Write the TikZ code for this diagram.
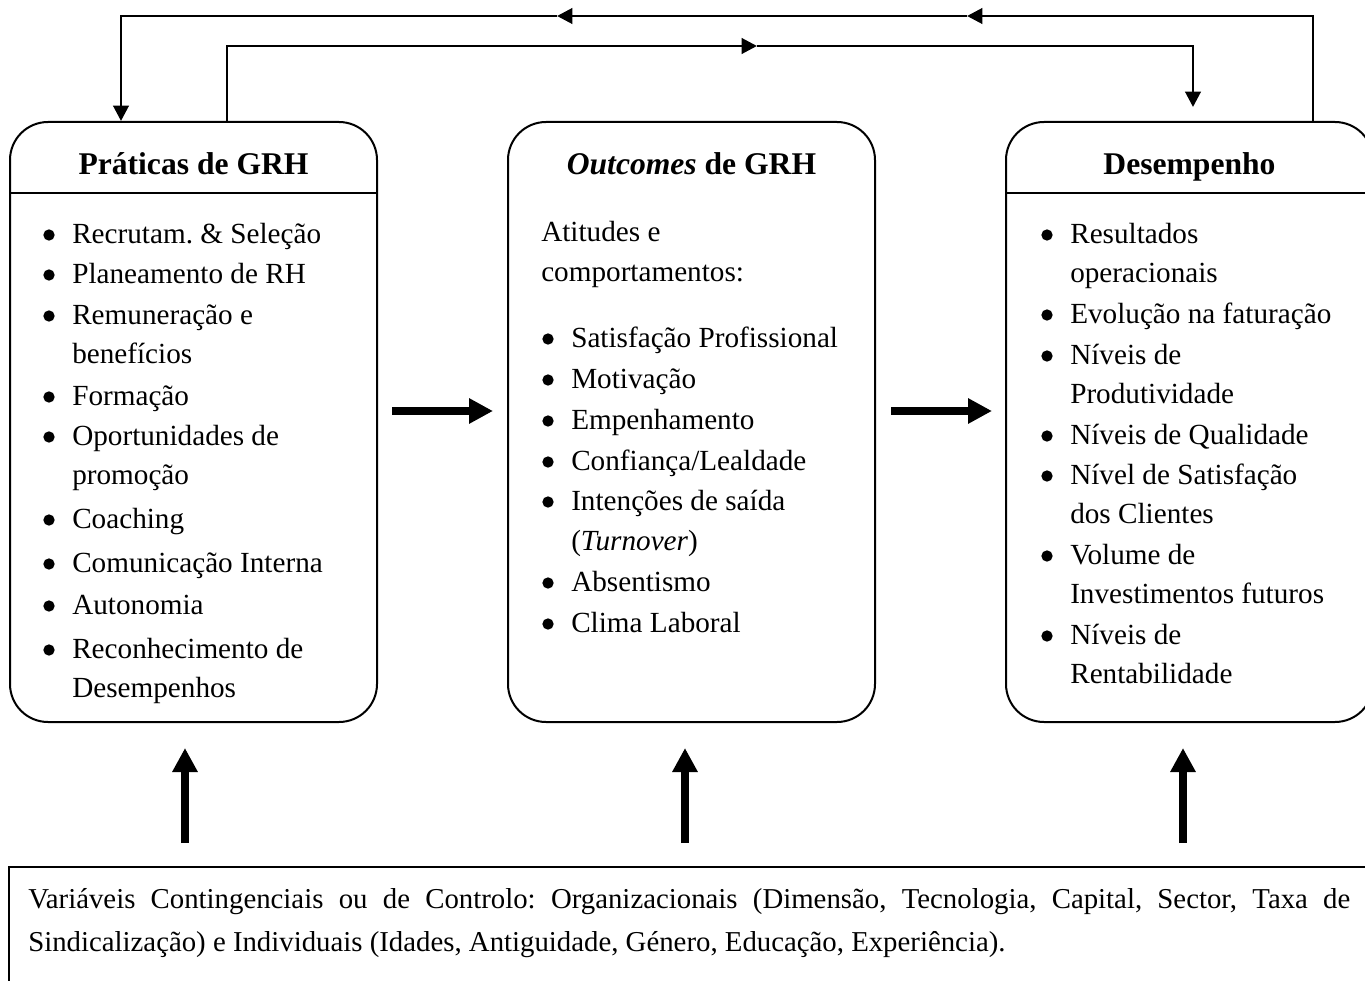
\documentclass[tikz,border=0pt]{standalone}
\usepackage{fontspec}
\setmainfont{Liberation Serif}
\usetikzlibrary{arrows.meta,calc}
\frenchspacing
\newcommand{\bodysize}{\fontsize{21.9pt}{30pt}\selectfont}
\newcommand{\notesize}{\fontsize{21.6pt}{30pt}\selectfont}
\newcommand{\headsize}{\fontsize{23.7pt}{32pt}\selectfont\bfseries}
% bulleted line: name, x of text, baseline y, text
\newcommand{\listitem}[4]{%
  \node[item] (#1) at (#2,#3) {#4};
  \node[dot] (#1-dot) at (#2-23,#3-8) {};}
\begin{document}
\begin{tikzpicture}[x=0.75pt,y=-0.75pt,
  panel/.style={draw, line width=1.5pt, rounded corners=28.5pt,
    minimum width=275.25pt, minimum height=450pt, inner sep=0pt},
  link/.style={line width=2.2pt, -{Triangle[length=11.5pt,width=11.5pt]}},
  bigarrow/.style={line width=6pt, -{Triangle[length=18pt,width=18pt]}},
  head/.style={anchor=base, inner sep=0pt, font=\headsize},
  item/.style={anchor=base west, inner sep=0pt, font=\bodysize},
  dot/.style={circle, fill=black, inner sep=0pt, minimum size=8.5pt}]

\clip (0,0) rectangle (1365,981);
\fill[white] (0,0) rectangle (1365,981);

% the three stages
\node[panel] (prat) at (193.5,422) {};
\node[panel] (outc) at (691.5,422) {};
\node[panel] (perf) at (1189.5,422) {};

% header rules
\coordinate (sepy) at (0,193);
\draw[line width=1.5pt] (prat.west |- sepy) -- (prat.east |- sepy);
\draw[line width=1.5pt] (perf.west |- sepy) -- (perf.east |- sepy);

% headers
\node[head] (pratH) at (193.5,175) {Práticas de GRH};
\node[head] (outcH) at (691.5,175) {\textit{Outcomes} de GRH};
\node[head] (perfH) at (1189.5,175) {Desempenho};

% HRM practices
\listitem{p1}{72}{243}{Recrutam. \& Seleção}
\listitem{p2}{72}{283}{Planeamento de RH}
\listitem{p3}{72}{324}{Remuneração e}
\node[item] (p3b) at (72,363) {benefícios};
\listitem{p4}{72}{405}{Formação}
\listitem{p5}{72}{445}{Oportunidades de}
\node[item] (p5b) at (72,484) {promoção};
\listitem{p6}{72}{528}{Coaching}
\listitem{p7}{72}{572}{Comunicação Interna}
\listitem{p8}{72}{614}{Autonomia}
\listitem{p9}{72}{658}{Reconhecimento de}
\node[item] (p9b) at (72,697) {Desempenhos};

% HRM outcomes
\node[item] (o0a) at (541,241) {Atitudes e};
\node[item] (o0b) at (541,281) {comportamentos:};
\listitem{o1}{571}{347}{Satisfação Profissional}
\listitem{o2}{571}{388}{Motivação}
\listitem{o3}{571}{429}{Empenhamento}
\listitem{o4}{571}{470}{Confiança/Lealdade}
\listitem{o5}{571}{510}{Intenções de saída}
\node[item] (o5b) at (571,550) {(\textit{Turnover})};
\listitem{o6}{571}{591}{Absentismo}
\listitem{o7}{571}{632}{Clima Laboral}

% performance
\listitem{d1}{1070}{243}{Resultados}
\node[item] (d1b) at (1070,282) {operacionais};
\listitem{d2}{1070}{323}{Evolução na faturação}
\listitem{d3}{1070}{364}{Níveis de}
\node[item] (d3b) at (1070,403) {Produtividade};
\listitem{d4}{1070}{444}{Níveis de Qualidade}
\listitem{d5}{1070}{484}{Nível de Satisfação}
\node[item] (d5b) at (1070,523) {dos Clientes};
\listitem{d6}{1070}{564}{Volume de}
\node[item] (d6b) at (1070,603) {Investimentos futuros};
\listitem{d7}{1070}{644}{Níveis de}
\node[item] (d7b) at (1070,683) {Rentabilidade};

% feedback loop: performance back to practices
\coordinate (fbRise) at (1313,16);
\coordinate (fbTipA) at (967,16);
\coordinate (fbTipB) at (557,16);
\coordinate (fbDrop) at (121,16);
\draw[link] (perf.north -| fbRise) -- (fbRise) -- (fbTipA);
\draw[link] (fbTipA) -- (fbTipB);
\draw[link] (fbTipB) -- (fbDrop) -- (prat.north -| fbDrop);

% direct link: practices to performance
\coordinate (ffRise) at (227,46);
\coordinate (ffTip) at (757,46);
\coordinate (ffTurn) at (1193,46);
\coordinate (ffEnd) at (1193,107);
\draw[link] (prat.north -| ffRise) -- (ffRise) -- (ffTip);
\draw[link] (ffTip) -- (ffTurn) -- (ffEnd);

% main sequence
\draw[bigarrow] ($(prat.east)+(14,-11)$) -- ($(outc.west)+(-14,-11)$);
\draw[bigarrow] ($(outc.east)+(15,-11)$) -- ($(perf.west)+(-13,-11)$);

% contingency variables
\node[draw, line width=1.5pt, anchor=north west, minimum width=1050pt,
  minimum height=120pt, inner sep=0pt] (ctx) at (8,866) {};
\node[anchor=base west, inner sep=0pt, font=\notesize] (ctxA) at (28,908)
  {\makebox[991.5pt][s]{Variáveis Contingenciais ou de Controlo: Organizacionais (Dimensão, Tecnologia, Capital, Sector, Taxa de}};
\node[anchor=base west, inner sep=0pt, font=\notesize] (ctxB) at (28,951)
  {Sindicalização) e Individuais (Idades, Antiguidade, Género, Educação, Experiência).};

\draw[bigarrow] ($(ctx.north -| prat.south)+(-8.5,-23)$) -- ($(prat.south)+(-8.5,25)$);
\draw[bigarrow] ($(ctx.north -| outc.south)+(-6.5,-23)$) -- ($(outc.south)+(-6.5,25)$);
\draw[bigarrow] ($(ctx.north -| perf.south)+(-6.5,-23)$) -- ($(perf.south)+(-6.5,25)$);
\end{tikzpicture}
\end{document}
